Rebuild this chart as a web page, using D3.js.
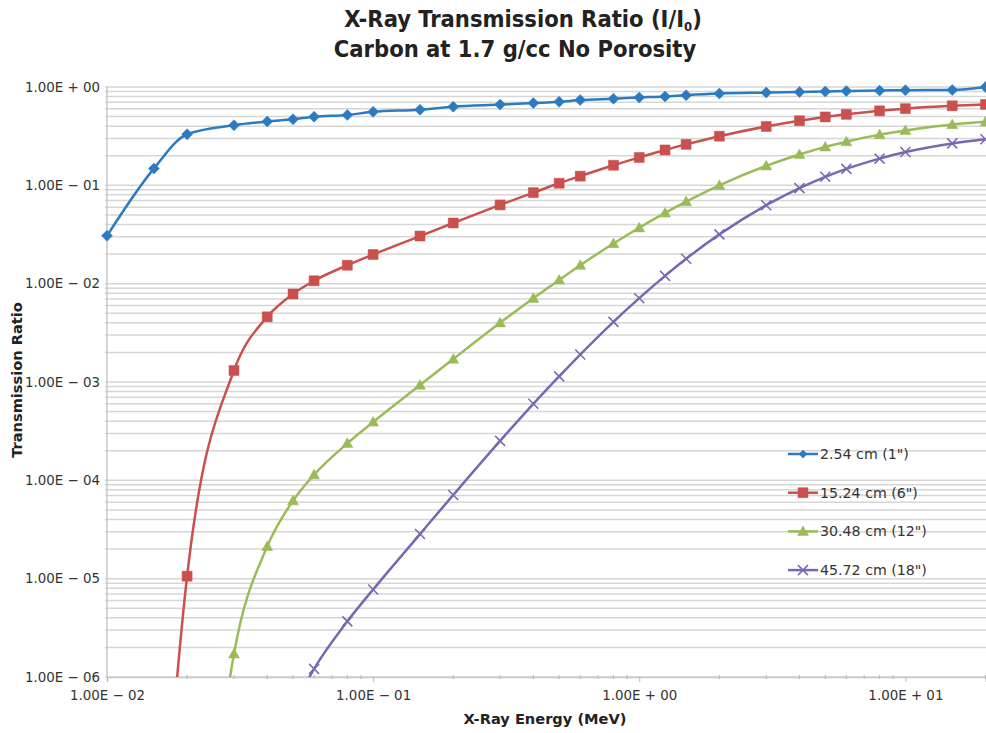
<!DOCTYPE html>
<html>
<head>
<meta charset="utf-8">
<script src="https://cdn.jsdelivr.net/npm/d3@7"></script>
<style>
  html, body { margin: 0; padding: 0; background: #fff; }
  svg { display: block; }
</style>
</head>
<body>
<svg id="chart" width="986" height="733"></svg>
<script>
// X-ray energies (MeV)
const energies = [0.01, 0.015, 0.02, 0.03, 0.04, 0.05, 0.06, 0.08, 0.1, 0.15, 0.2, 0.3, 0.4, 0.5, 0.6, 0.8,
                  1, 1.25, 1.5, 2, 3, 4, 5, 6, 8, 10, 15, 20];

// Transmission ratio I/I0 per thickness (null = no value for that energy)
const t254 = [0.0307, 0.148, 0.331, 0.408, 0.446, 0.469, 0.499, 0.520, 0.559, 0.588, 0.631, 0.662, 0.686, 0.706,
              0.737, 0.760, 0.782, 0.800, 0.825, 0.857, 0.877, 0.890, 0.899, 0.911, 0.919, 0.929, 0.934, 1.0];
const t1524 = [null, 8.3e-10, 1.06e-5, 1.31e-3, 4.6e-3, 7.85e-3, 0.0107, 0.0154, 0.0198, 0.0305, 0.0414, 0.0632,
               0.0843, 0.105, 0.124, 0.160, 0.192, 0.229, 0.261, 0.316, 0.397, 0.454, 0.496, 0.527, 0.572, 0.602, 0.644, 0.665];
const t3048 = [null, null, 1.1e-10, 1.72e-6, 2.13e-5, 6.2e-5, 1.14e-4, 2.38e-4, 3.92e-4, 9.3e-4, 1.71e-3, 4.0e-3,
               7.1e-3, 0.0109, 0.0154, 0.0256, 0.0370, 0.0524, 0.0683, 0.100, 0.158, 0.206, 0.246, 0.278, 0.328, 0.362, 0.415, 0.442];
const t4572 = [null, null, null, null, null, 4.8e-7, 1.21e-6, 3.68e-6, 7.76e-6, 2.84e-5, 7.1e-5, 2.52e-4, 6.0e-4,
               1.14e-3, 1.90e-3, 4.09e-3, 7.12e-3, 0.0120, 0.0179, 0.0317, 0.0628, 0.0937, 0.122, 0.147, 0.187, 0.218, 0.267, 0.294];

const seriesNames = ['2.54 cm (1")', '15.24 cm (6")', '30.48 cm (12")', '45.72 cm (18")'];
const seriesValues = [t254, t1524, t3048, t4572];
const seriesColors = ["#2b7bc0", "#c9504d", "#9bbb59", "#7b67b0"];
const seriesMarkers = ["diamond", "square", "triangle", "cross"];

const yTickValues = [1e0, 1e-1, 1e-2, 1e-3, 1e-4, 1e-5, 1e-6];
const xTickValues = [1e-2, 1e-1, 1e0, 1e1];

const titleLines = ["X-Ray Transmission Ratio (I/I", "Carbon at 1.7 g/cc No Porosity"];
const xTitle = "X-Ray Energy (MeV)";
const yTitle = "Transmission Ratio";

const svg = d3.select("#chart");
const plot = { left: 107, right: 985.5, top: 87, bottom: 677 };

const x = d3.scaleLog().domain([0.01, 20]).range([plot.left, plot.right]);
const y = d3.scaleLog().domain([1e-6, 1]).range([plot.bottom, plot.top]);

// Scientific label like "1.00E − 02"
function sci(v) {
  const e = Math.round(Math.log10(v));
  const sign = e < 0 ? "\u2212" : "+";
  return "1.00E " + sign + " " + String(Math.abs(e)).padStart(2, "0");
}

const labelFont = "'DejaVu Sans', Verdana, sans-serif";

// Horizontal gridlines at every 1..9 × 10^n
const gridVals = [];
for (let e = -6; e <= 0; e++) {
  for (let m = 1; m <= 9; m++) {
    const v = m * Math.pow(10, e);
    if (v <= 1.0000001) gridVals.push(v);
  }
}
svg.append("g").selectAll("line").data(gridVals).join("line")
  .attr("x1", plot.left - 2).attr("x2", 986)
  .attr("y1", d => y(d)).attr("y2", d => y(d))
  .attr("stroke", "#d6d6d6").attr("stroke-width", 1.5);

// Left axis line
svg.append("line")
  .attr("x1", plot.left).attr("x2", plot.left)
  .attr("y1", plot.top).attr("y2", plot.bottom)
  .attr("stroke", "#c8c8c8").attr("stroke-width", 1.5);

// Bottom axis with minor ticks
const xAxis = d3.axisBottom(x)
  .tickValues(xTickValues)
  .tickFormat(sci)
  .tickSize(5)
  .tickPadding(8);
const gx = svg.append("g").attr("transform", `translate(0,${plot.bottom})`).call(xAxis);
gx.select(".domain").attr("stroke", "#c8c8c8").attr("stroke-width", 1.5);
gx.selectAll(".tick line").attr("stroke", "#b8b8b8");
gx.selectAll("text").attr("font-family", labelFont).attr("font-size", 13.4).attr("fill", "#333");
const xMinor = [];
for (let e = -2; e <= 1; e++) for (let m = 2; m <= 9; m++) {
  const v = m * Math.pow(10, e);
  if (v <= 20) xMinor.push(v);
}
gx.append("g").selectAll("line").data(xMinor).join("line")
  .attr("x1", d => x(d)).attr("x2", d => x(d))
  .attr("y1", -2).attr("y2", 2).attr("stroke", "#b8b8b8");

// Left axis labels
const yAxis = d3.axisLeft(y).tickValues(yTickValues).tickFormat(sci).tickSize(0).tickPadding(7);
const gy = svg.append("g").attr("transform", `translate(${plot.left},0)`).call(yAxis);
gy.select(".domain").remove();
gy.selectAll("text").attr("font-family", labelFont).attr("font-size", 13.4).attr("fill", "#333");

// Clip region for lines
svg.append("clipPath").attr("id", "plotClip")
  .append("rect").attr("x", plot.left).attr("y", plot.top - 10)
  .attr("width", 986 - plot.left).attr("height", plot.bottom - plot.top + 10);

const line = d3.line()
  .defined(d => d.v != null)
  .x(d => x(d.e)).y(d => y(d.v))
  .curve(d3.curveMonotoneX);

function markerPath(type, cx, cy) {
  const p = d3.path();
  if (type === "diamond") {
    const r = 5.5;
    p.moveTo(cx, cy - r); p.lineTo(cx + r, cy); p.lineTo(cx, cy + r); p.lineTo(cx - r, cy); p.closePath();
  } else if (type === "square") {
    const r = 5;
    p.rect(cx - r, cy - r, 2 * r, 2 * r);
  } else if (type === "triangle") {
    const r = 5.5;
    p.moveTo(cx, cy - r); p.lineTo(cx + r, cy + r * 0.75); p.lineTo(cx - r, cy + r * 0.75); p.closePath();
  } else {
    const r = 5;
    p.moveTo(cx - r, cy - r); p.lineTo(cx + r, cy + r);
    p.moveTo(cx + r, cy - r); p.lineTo(cx - r, cy + r);
  }
  return p.toString();
}

seriesValues.forEach((vals, i) => {
  const pts = energies.map((e, k) => ({ e, v: vals[k] })).filter(d => d.v != null);
  const g = svg.append("g");
  g.append("path").datum(pts)
    .attr("clip-path", "url(#plotClip)")
    .attr("d", line)
    .attr("fill", "none").attr("stroke", seriesColors[i]).attr("stroke-width", 2.5);
  const vis = pts.filter(d => d.v >= 1e-6);
  g.selectAll("path.m").data(vis).join("path").attr("class", "m")
    .attr("d", d => markerPath(seriesMarkers[i], x(d.e), y(d.v)))
    .attr("fill", seriesMarkers[i] === "cross" ? "none" : seriesColors[i])
    .attr("stroke", seriesColors[i])
    .attr("stroke-width", seriesMarkers[i] === "cross" ? 1.5 : 0.5);
});

// Legend
const legend = svg.append("g").attr("transform", "translate(788,454)");
seriesNames.forEach((name, i) => {
  const row = legend.append("g").attr("transform", `translate(0,${i * 38.7})`);
  row.append("line").attr("x1", 0).attr("x2", 30).attr("y1", 0).attr("y2", 0)
    .attr("stroke", seriesColors[i]).attr("stroke-width", 2.5);
  row.append("path").attr("d", markerPath(seriesMarkers[i], 15, 0))
    .attr("fill", seriesMarkers[i] === "cross" ? "none" : seriesColors[i])
    .attr("stroke", seriesColors[i])
    .attr("stroke-width", seriesMarkers[i] === "cross" ? 1.5 : 0.5)
    .attr("transform", seriesMarkers[i] === "diamond" ? "translate(15,0) scale(0.75) translate(-15,0)" : null);
  row.append("text").attr("x", 32).attr("y", 0).attr("dy", "0.35em")
    .attr("font-family", labelFont).attr("font-size", 14.2).attr("fill", "#333")
    .text(name);
});

// Title
const titleFont = "'DejaVu Sans Condensed', 'DejaVu Sans', sans-serif";
const t1 = svg.append("text").attr("x", 523).attr("y", 27).attr("text-anchor", "middle")
  .attr("font-family", titleFont).attr("font-weight", "bold").attr("font-size", 23.5).attr("fill", "#222");
t1.append("tspan").text(titleLines[0]);
t1.append("tspan").attr("font-size", 13).attr("dy", 4).text("0");
t1.append("tspan").attr("dy", -4).text(")");
svg.append("text").attr("x", 515).attr("y", 57).attr("text-anchor", "middle")
  .attr("font-family", titleFont).attr("font-weight", "bold").attr("font-size", 23.5).attr("fill", "#222")
  .text(titleLines[1]);

// Axis titles
svg.append("text").attr("x", 545).attr("y", 724).attr("text-anchor", "middle")
  .attr("font-family", labelFont).attr("font-weight", "bold").attr("font-size", 14.6).attr("fill", "#222")
  .text(xTitle);
svg.append("text").attr("transform", "translate(22,380) rotate(-90)").attr("text-anchor", "middle")
  .attr("font-family", labelFont).attr("font-weight", "bold").attr("font-size", 14.6).attr("fill", "#222")
  .text(yTitle);
</script>
</body>
</html>
